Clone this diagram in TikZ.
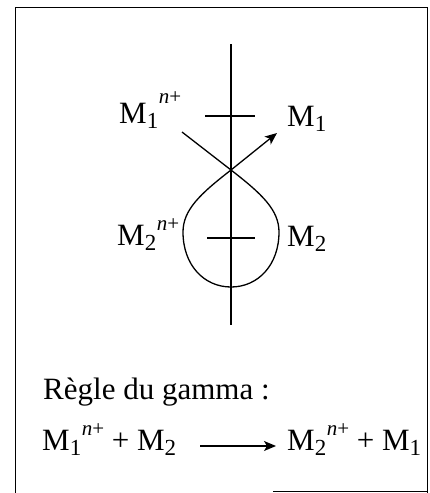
\documentclass[tikz,border=0pt]{standalone}
\usepackage{fontspec}
\setmainfont{Liberation Serif}
\usetikzlibrary{arrows.meta}
\newcommand\sbx[1]{\raisebox{-5pt}{\fontsize{23}{23}\selectfont #1}}
\newcommand\spx[1]{\raisebox{#1}{\fontsize{21}{21}\selectfont\kern0.5pt\textit{n}+}}
\tikzset{
  lbl/.style={font=\fontsize{31}{34}\selectfont, inner sep=0pt},
  axis/.style={line width=2.2pt},
  bar/.style={line width=2.8pt},
  path/.style={line width=1.3pt},
  tip/.style={-{Stealth[length=12pt,width=10pt,inset=3pt]}}
}
\begin{document}
\begin{tikzpicture}[x=1pt,y=-1pt]
\useasboundingbox (0,0) rectangle (430,493);
% frame
\draw[line width=1pt] (15,493) -- (15,7) -- (427,7) -- (427,493);
\draw[line width=0.8pt] (273,491) -- (427,491);
% axis
\coordinate (atop) at (231,44);
\coordinate (abot) at (231,325);
\draw[axis] (atop) -- (abot);
\coordinate (b1l) at (205,116); \coordinate (b1r) at (255,116);
\coordinate (b2l) at (207,238); \coordinate (b2r) at (255,238);
\draw[bar] (b1l) -- (b1r);
\draw[bar] (b2l) -- (b2r);
% gamma path
\coordinate (start) at (182,132);
\coordinate (x) at (231,170);
\coordinate (endp) at (277,133);
\draw[path,tip] (start) -- (x) .. controls (262,194) and (279,210) .. (279,232)
  .. controls (279,265) and (258,287) .. (231,287)
  .. controls (204,287) and (183,265) .. (183,232)
  .. controls (183,210) and (200,194) .. (x) -- (endp);
% labels
\node[lbl, anchor=base west] (m1n) at (119,123) {M\sbx{1}\spx{20pt}};
\node[lbl, anchor=base west] (m1) at (287,126) {M\sbx{1}};
\node[lbl, anchor=base west] (m2n) at (117,245) {M\sbx{2}\spx{15pt}};
\node[lbl, anchor=base west] (m2) at (287,246) {M\sbx{2}};
\node[lbl, anchor=base west] (regle) at (43,399) {Règle du gamma :};
\node[lbl, anchor=base west] (lhs) at (42,450) {M\sbx{1}\spx{15pt} + M\sbx{2}};
\node[lbl, anchor=base west] (rhs) at (287,450) {M\sbx{2}\spx{15pt} + M\sbx{1}};
\coordinate (a1) at (200,446);
\coordinate (a2) at (276,446);
\draw[path,tip] (a1) -- (a2);
\end{tikzpicture}
\end{document}
